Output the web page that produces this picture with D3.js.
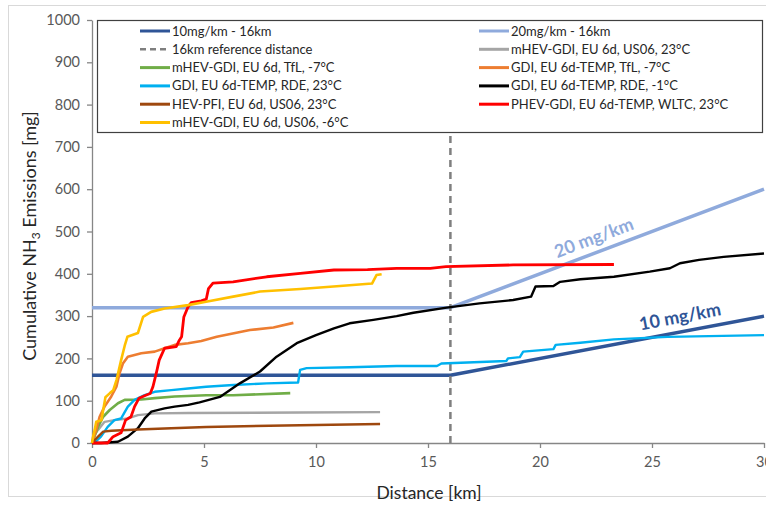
<!DOCTYPE html>
<html>
<head>
<meta charset="utf-8">
<script src="https://cdn.jsdelivr.net/npm/d3@7"></script>
<style>
  body { margin: 0; background: #fff; }
  svg { display: block; font-family: Lato, "Open Sans", sans-serif; }
</style>
</head>
<body>
<div id="chart"></div>
<script>
// reference lines
const ref10 = [[0, 160], [16, 160], [30, 300]];
const ref20 = [[0, 320], [16, 320], [30, 600]];
const refDistance = [[16, 0], [16, 1000]];

// measured cumulative NH3 [km, mg]
const mhevUs06Warm = [[0,0],[0.05,15],[0.27,31],[0.56,50],[1.0,54],[1.6,58],[2.05,66],[2.8,70],[4.29,71],[9.29,72],[12.86,73]];
const mhevTfl = [[0,0],[0.05,7],[0.27,38],[0.5,62],[0.79,78],[1.16,94],[1.46,102],[2.2,103],[2.8,106],[3.69,110],[5.1,113],[6.3,113],[8.85,118]];
const gdiTfl = [[0,0],[0.19,31],[0.34,62],[0.56,86],[0.86,110],[1.09,133],[1.23,165],[1.38,188],[1.6,204],[2.2,212],[2.8,216],[3.24,224],[3.69,232],[4.29,236],[4.88,241],[5.57,251],[7.05,267],[8.1,273],[8.99,284]];
const gdiRdeWarm = [[0,0],[0.1,0],[0.4,15],[0.7,38],[1.0,54],[1.3,58],[1.6,86],[1.9,102],[2.35,113],[2.8,121],[3.54,125],[4.29,129],[5.1,133],[6.3,137],[7.8,141],[9.2,143],[9.29,173],[9.58,177],[11.5,179],[13.6,182],[15.4,182],[15.6,188],[18.5,194],[18.57,200],[19.1,203],[19.25,216],[20.6,222],[20.7,232],[21.8,237],[23.3,245],[25.7,251],[30,255]];
const gdiRdeCold = [[0,0],[0.4,0],[1.16,3],[1.6,15],[2.05,35],[2.35,58],[2.65,74],[3.24,82],[3.69,86],[4.29,90],[4.8,96],[5.71,109],[6.6,141],[7.5,169],[8.24,204],[9.14,236],[10.0,255],[10.8,271],[11.5,283],[12.56,291],[13.6,300],[14.35,308],[15.83,320],[17.3,330],[18.8,338],[19.6,346],[19.8,370],[20.6,371],[20.9,381],[21.8,387],[23.3,393],[24.9,405],[25.8,413],[26.25,425],[27.1,433],[28.2,440],[30,448]];
const hevPfi = [[0,0],[0.05,3],[0.27,15],[0.5,27],[0.86,29],[2.05,32],[3.54,35],[5.1,38],[9.29,42],[12.86,45]];
const phevWltc = [[0,0],[0.7,0],[0.94,15],[1.3,24],[1.5,54],[1.74,62],[1.9,86],[2.1,106],[2.4,113],[2.6,117],[2.72,133],[2.87,165],[3.0,196],[3.24,224],[3.76,228],[3.9,243],[4.0,251],[4.1,298],[4.29,322],[4.43,332],[4.88,336],[5.1,340],[5.2,365],[5.4,378],[6.3,381],[7.8,393],[9.3,401],[10.8,409],[12.3,410],[13.6,413],[15.1,413],[15.8,417],[18.8,421],[23.3,422]];
const mhevUs06Cold = [[0,0],[0.05,15],[0.12,31],[0.19,50],[0.42,54],[0.6,108],[0.8,118],[0.95,125],[1.1,150],[1.3,196],[1.46,230],[1.58,251],[2.05,260],[2.28,298],[2.64,310],[3.24,318],[4.29,326],[5.09,334],[6.3,346],[7.5,358],[9.3,364],[11.07,371],[12.5,377],[12.7,397],[12.93,399]];

const seriesNames = [
  "10mg/km - 16km", "20mg/km - 16km",
  "16km reference distance", "mHEV-GDI, EU 6d, US06, 23°C",
  "mHEV-GDI, EU 6d, TfL, -7°C", "GDI, EU 6d-TEMP, TfL, -7°C",
  "GDI, EU 6d-TEMP, RDE, 23°C", "GDI, EU 6d-TEMP, RDE, -1°C",
  "HEV-PFI, EU 6d, US06, 23°C", "PHEV-GDI, EU 6d-TEMP, WLTC, 23°C",
  "mHEV-GDI, EU 6d, US06, -6°C"
];
const seriesData = [ref10, ref20, refDistance, mhevUs06Warm, mhevTfl, gdiTfl,
  gdiRdeWarm, gdiRdeCold, hevPfi, phevWltc, mhevUs06Cold];
const seriesColors = ["#2F5597", "#8FAADC", "#7F7F7F", "#A5A5A5", "#70AD47", "#ED7D31",
  "#00B0F0", "#000000", "#9E480E", "#FF0000", "#FFC000"];
const seriesWidths = [3.5, 3.5, 2.5, 2.4, 2.6, 2.6, 2.4, 2.4, 2.4, 2.8, 2.6];

const yTicks = d3.range(0, 1001, 100);
const xTicks = [0, 5, 10, 15, 20, 25, 30];

const W = 766, H = 506;
const svg = d3.select('#chart').append('svg').attr('width', W).attr('height', H);

// chart area frame
svg.append('rect').attr('x', 8.5).attr('y', 5.5).attr('width', 800).attr('height', 491)
  .attr('fill', 'none').attr('stroke', '#d9d9d9');

const x = d3.scaleLinear().domain([0, 30]).range([92, 764]);
const y = d3.scaleLinear().domain([0, 1000]).range([443, 20]);

const line = d3.line().x(d => x(d[0])).y(d => y(d[1]));

// axes
const yAxis = svg.append('g').attr('transform', 'translate(92,0)')
  .call(d3.axisLeft(y).tickValues(yTicks).tickFormat(d3.format('d'))
    .tickSize(5).tickPadding(7).tickSizeOuter(0));
const xAxis = svg.append('g').attr('transform', 'translate(0,443)')
  .call(d3.axisBottom(x).tickValues(xTicks).tickSize(5).tickPadding(9).tickSizeOuter(0));
[yAxis, xAxis].forEach(g => {
  g.selectAll('path, line').attr('stroke', '#868686').attr('stroke-width', 1.3);
  g.selectAll('text').attr('fill', '#595959').style('font-size', '14.5px').style('font-family', 'Lato');
});

// series, in legend order
seriesData.forEach((d, i) => {
  svg.append('path').datum(d)
    .attr('d', line)
    .attr('fill', 'none')
    .attr('stroke', seriesColors[i])
    .attr('stroke-width', seriesWidths[i])
    .attr('stroke-linejoin', 'round')
    .attr('stroke-dasharray', i === 2 ? '7,5' : null);
});

// slope labels
function slopeLabel(txt, km, mg, color, off) {
  const p1 = [x(16), y(mg[0])], p2 = [x(30), y(mg[1])];
  const ang = Math.atan2(p2[1] - p1[1], p2[0] - p1[0]) * 180 / Math.PI;
  const px = x(km), py = y(mg[0] + (mg[1] - mg[0]) * (km - 16) / 14) - off;
  svg.append('text').attr('x', px).attr('y', py)
    .attr('transform', `rotate(${ang},${px},${py})`)
    .attr('text-anchor', 'middle')
    .attr('fill', color).style('font-size', '18px').style('font-weight', 'bold')
    .text(txt);
}
slopeLabel('20 mg/km', 22.5, [320, 600], '#8FAADC', 9);
slopeLabel('10 mg/km', 26.3, [160, 300], '#2F5597', 9);

// legend
const legend = svg.append('g');
legend.append('rect').attr('x', 97.5).attr('y', 20.5).attr('width', 665).attr('height', 112)
  .attr('fill', '#fff').attr('stroke', '#404040').attr('stroke-width', 1.2);
seriesNames.forEach((name, i) => {
  const col = i % 2, row = Math.floor(i / 2);
  const lx = col === 0 ? 140 : 479, ly = 31 + row * 18.3;
  legend.append('line').attr('x1', lx).attr('x2', lx + 30).attr('y1', ly).attr('y2', ly)
    .attr('stroke', seriesColors[i]).attr('stroke-width', i === 2 ? 2.5 : 3)
    .attr('stroke-dasharray', i === 2 ? '6,4' : null);
  legend.append('text').attr('x', lx + 32).attr('y', ly).attr('dy', '0.35em')
    .attr('fill', '#262626').style('font-size', '13px').text(name);
});

// axis titles
svg.append('text').attr('x', 429).attr('y', 499).attr('text-anchor', 'middle')
  .attr('fill', '#262626').style('font-size', '17.5px').text('Distance [km]');
const yt = svg.append('text').attr('transform', 'translate(36,236) rotate(-90)')
  .attr('text-anchor', 'middle').attr('fill', '#262626').style('font-size', '18px');
yt.append('tspan').text('Cumulative NH');
yt.append('tspan').attr('dy', 4).style('font-size', '12px').text('3');
yt.append('tspan').attr('dy', -4).text(' Emissions [mg]');
</script>
</body>
</html>
